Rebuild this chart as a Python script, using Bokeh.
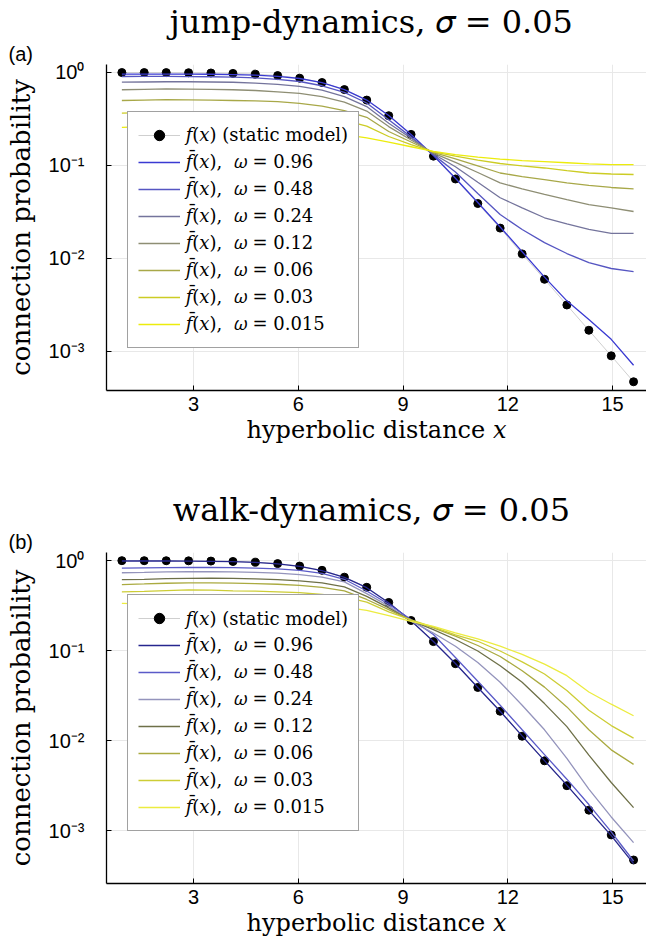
from bokeh.plotting import figure
from bokeh.models import (Range1d, FixedTicker, CustomJSTickFormatter, Legend,
                          LegendItem, Title)
from bokeh.layouts import column
from bokeh.embed import file_html
from bokeh.resources import INLINE

# ---------------- data ----------------
x = [0.95, 1.59, 2.22, 2.86, 3.50, 4.13, 4.77, 5.41, 6.04, 6.68, 7.32, 7.96,
     8.59, 9.23, 9.87, 10.50, 11.14, 11.78, 12.41, 13.05, 13.69, 14.32, 14.96, 15.60]

static_f = [0.999, 0.998, 0.997, 0.994, 0.988, 0.978, 0.960, 0.926, 0.869, 0.780, 0.655, 0.505,
            0.343, 0.216, 0.126, 0.0716, 0.0390, 0.0212, 0.0112, 0.00597, 0.00316, 0.00169, 0.000897, 0.000472]

omegas = ["0.96", "0.48", "0.24", "0.12", "0.06", "0.03", "0.015"]

# jump-dynamics
jump_096 = [0.962, 0.962, 0.962, 0.960, 0.957, 0.950, 0.937, 0.910, 0.862, 0.780, 0.655, 0.505,
            0.345, 0.215, 0.128, 0.073, 0.040, 0.0218, 0.0118, 0.0063, 0.0035, 0.0022, 0.00135, 0.00071]
jump_048 = [0.906, 0.908, 0.908, 0.905, 0.900, 0.890, 0.875, 0.845, 0.800, 0.720, 0.610, 0.470,
            0.310, 0.203, 0.130, 0.085, 0.050, 0.0297, 0.0205, 0.0148, 0.0113, 0.0090, 0.0078, 0.0072]
jump_024 = [0.787, 0.790, 0.795, 0.795, 0.790, 0.785, 0.770, 0.745, 0.710, 0.645, 0.550, 0.430,
            0.285, 0.196, 0.133, 0.097, 0.066, 0.045, 0.035, 0.0274, 0.0235, 0.0205, 0.0186, 0.0186]
jump_012 = [0.652, 0.660, 0.665, 0.662, 0.658, 0.652, 0.640, 0.620, 0.595, 0.550, 0.480, 0.385,
            0.262, 0.188, 0.136, 0.108, 0.084, 0.065, 0.056, 0.049, 0.043, 0.038, 0.035, 0.032]
jump_006 = [0.500, 0.505, 0.510, 0.508, 0.505, 0.500, 0.495, 0.485, 0.465, 0.435, 0.390, 0.330,
            0.232, 0.179, 0.138, 0.118, 0.099, 0.083, 0.076, 0.0705, 0.065, 0.061, 0.058, 0.056]
jump_003 = [0.366, 0.370, 0.375, 0.372, 0.370, 0.372, 0.368, 0.360, 0.350, 0.330, 0.305, 0.265,
            0.205, 0.168, 0.140, 0.126, 0.114, 0.105, 0.099, 0.094, 0.088, 0.083, 0.081, 0.080]
jump_0015 = [0.257, 0.262, 0.258, 0.255, 0.260, 0.256, 0.252, 0.246, 0.238, 0.228, 0.215, 0.198,
             0.178, 0.159, 0.142, 0.131, 0.123, 0.117, 0.113, 0.110, 0.107, 0.104, 0.102, 0.102]

# walk-dynamics
walk_096 = [0.990, 0.990, 0.990, 0.988, 0.982, 0.972, 0.955, 0.920, 0.865, 0.775, 0.650, 0.500,
            0.340, 0.215, 0.126, 0.072, 0.039, 0.0212, 0.0113, 0.0060, 0.0032, 0.00168, 0.00088, 0.00043]
walk_048 = [0.824, 0.830, 0.835, 0.838, 0.838, 0.835, 0.826, 0.810, 0.780, 0.720, 0.620, 0.460,
            0.328, 0.222, 0.151, 0.0838, 0.0457, 0.0247, 0.0132, 0.0070, 0.00373, 0.00195, 0.00097, 0.00046]
walk_024 = [0.733, 0.740, 0.748, 0.752, 0.752, 0.748, 0.740, 0.725, 0.700, 0.655, 0.580, 0.430,
            0.312, 0.213, 0.157, 0.112, 0.0738, 0.0446, 0.0247, 0.0132, 0.00634, 0.0029, 0.00142, 0.000737]
walk_012 = [0.614, 0.620, 0.630, 0.636, 0.638, 0.635, 0.628, 0.615, 0.595, 0.565, 0.510, 0.400,
            0.298, 0.215, 0.171, 0.133, 0.099, 0.0679, 0.0446, 0.0258, 0.0143, 0.0069, 0.00343, 0.0018]
walk_006 = [0.542, 0.550, 0.560, 0.565, 0.566, 0.562, 0.556, 0.546, 0.530, 0.505, 0.460, 0.370,
            0.285, 0.217, 0.179, 0.145, 0.114, 0.086, 0.0598, 0.0393, 0.0237, 0.0132, 0.0079, 0.00545]
walk_003 = [0.450, 0.455, 0.465, 0.472, 0.470, 0.462, 0.458, 0.450, 0.440, 0.420, 0.395, 0.345,
            0.270, 0.220, 0.182, 0.150, 0.127, 0.099, 0.075, 0.055, 0.0361, 0.0218, 0.0147, 0.01067]
walk_0015 = [0.335, 0.330, 0.340, 0.345, 0.350, 0.345, 0.340, 0.338, 0.330, 0.320, 0.305, 0.280,
             0.245, 0.211, 0.186, 0.157, 0.135, 0.112, 0.091, 0.0708, 0.0527, 0.0347, 0.0254, 0.0189]

jump_series = [jump_096, jump_048, jump_024, jump_012, jump_006, jump_003, jump_0015]
walk_series = [walk_096, walk_048, walk_024, walk_012, walk_006, walk_003, walk_0015]

jump_colors = ["#3a3ad2", "#5656c2", "#74749c", "#8e8e74", "#a8a848", "#cccc24", "#ecec0c"]
walk_colors = ["#26268e", "#5a5ac8", "#9494bc", "#6e7048", "#aaaa40", "#cdcd36", "#ecec40"]

x_ticks = [3, 6, 9, 12, 15]
y_ticks = [1e-3, 1e-2, 1e-1, 1.0]

SERIF = "DejaVu Serif"
SANS = "Liberation Sans"

sup_js = """
const e = Math.round(Math.log10(tick));
const m = {"-":"\u207b","0":"\u2070","1":"\u00b9","2":"\u00b2","3":"\u00b3","4":"\u2074",
           "5":"\u2075","6":"\u2076","7":"\u2077","8":"\u2078","9":"\u2079"};
return "10" + String(e).split("").map(c => m[c]).join("");
"""


def make_panel(title, tag, series, colors, height, top_border, bottom_border,
               y_lo, y_hi, legend_y):
    p = figure(width=646, height=height, x_range=Range1d(0.51, 15.97),
               y_range=Range1d(y_lo, y_hi), y_axis_type="log",
               output_backend="svg", toolbar_location=None,
               min_border_left=106, min_border_right=0,
               min_border_top=top_border, min_border_bottom=bottom_border)
    p.outline_line_color = None
    p.background_fill_color = "white"

    # main title (outermost)
    p.title.text = title
    p.title.align = "center"
    p.title.text_font = SERIF
    p.title.text_font_size = "32px"
    p.title.text_font_style = "normal"
    p.title.text_color = "black"
    p.title.standoff = 0

    # panel tag, closest to the frame
    tag_t = Title(text=tag, align="left", offset=-98, text_font=SANS, text_font_size="20px",
                  text_font_style="normal", text_color="black", standoff=0)
    p.add_layout(tag_t, "above")

    for ax in (p.xaxis[0], p.yaxis[0]):
        ax.axis_line_color = "black"
        ax.axis_line_width = 1.3
        ax.major_tick_in = 5
        ax.major_tick_out = 0
        ax.minor_tick_in = 0
        ax.minor_tick_out = 0
        ax.major_tick_line_color = "black"
        ax.major_label_text_font = SANS
        ax.major_label_text_font_size = "20px"
        ax.major_label_text_color = "black"
        ax.axis_label_text_font = SERIF
        ax.axis_label_text_font_style = "normal"
        ax.axis_label_text_color = "black"

    p.xaxis.axis_label_text_font_size = "24px"
    p.yaxis.axis_label_text_font_size = "26px"
    p.xaxis.ticker = FixedTicker(ticks=x_ticks)
    p.yaxis.ticker = FixedTicker(ticks=y_ticks)
    p.yaxis.formatter = CustomJSTickFormatter(code=sup_js)
    p.xaxis.major_label_standoff = 6
    p.yaxis.major_label_standoff = 22
    p.xaxis.axis_label_standoff = 2
    p.yaxis.axis_label_standoff = 10
    p.xaxis.axis_label = "hyperbolic distance \U0001D465"
    p.yaxis.axis_label = "connection probability"

    p.xgrid.ticker = FixedTicker(ticks=x_ticks)
    p.ygrid.ticker = FixedTicker(ticks=y_ticks)
    p.grid.grid_line_color = "#e8e8e8"
    p.grid.grid_line_width = 1

    items = []
    sl = p.line(x, static_f, line_color="#cfcfcf", line_width=1)
    sc = p.scatter(x, static_f, size=8, fill_color="black", line_color="black")
    line_rs = []
    for ys, c in zip(series, colors):
        line_rs.append(p.line(x, ys, line_color=c, line_width=1.3))
    items.append(LegendItem(label="\U0001D453(\U0001D465) (static model)", renderers=[sl, sc]))
    for om, r in zip(omegas, line_rs):
        items.append(LegendItem(label="\U0001D453\u0304(\U0001D465),  \U0001D714 = " + om, renderers=[r]))

    leg = Legend(items=items, location=(20.7, legend_y), padding=10, spacing=1,
                 label_height=26, glyph_height=26, glyph_width=42, label_standoff=6,
                 border_line_color="#444444", border_line_width=1.5,
                 background_fill_color="white", background_fill_alpha=1.0,
                 label_text_font=SERIF, label_text_font_size="18px",
                 label_text_color="black", margin=0)
    p.add_layout(leg)
    return p


p1 = make_panel("jump-dynamics,  \U0001D70E = 0.05", "(a)", jump_series, jump_colors,
                470, 63, 80, 10 ** -3.42, 10 ** 0.086, 42.5)
p2 = make_panel("walk-dynamics,  \U0001D70E = 0.05", "(b)", walk_series, walk_colors,
                469, 82, 51, 10 ** -3.587, 10 ** 0.09, 51.7)

layout = column(p1, p2, spacing=0)
open("out.html", "w").write(file_html(layout, INLINE))
